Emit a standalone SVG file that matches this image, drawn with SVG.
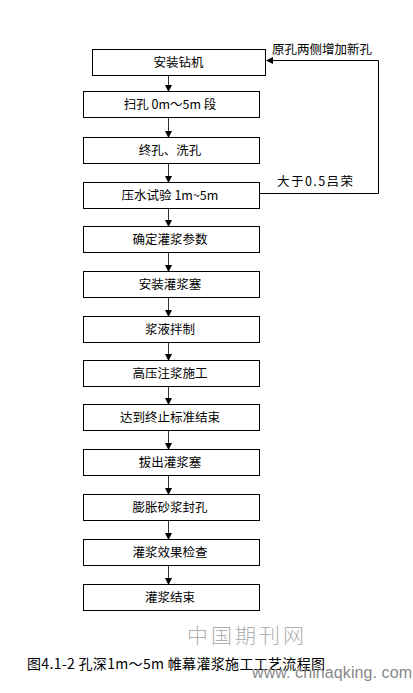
<svg xmlns="http://www.w3.org/2000/svg" width="413" height="693" viewBox="0 0 413 693">
<style>
.box{fill:#fff;stroke:#000;stroke-width:1}
.t{font-family:"Noto Sans CJK SC","Liberation Sans",sans-serif;font-size:12.5px;fill:#000;text-anchor:middle}
.lbl{font-family:"Noto Sans CJK SC","Liberation Sans",sans-serif;font-size:12.5px;fill:#000}
.ln{fill:none;stroke:#333;stroke-width:1}
.ah{fill:#000}
</style>
<rect width="413" height="693" fill="#fff"/>
<g id="n1"><rect class="box" x="92.5" y="49.5" width="173" height="26"/><text class="t" x="178.5" y="67">安装钻机</text></g>
<g id="n2"><rect class="box" x="83.5" y="91.5" width="176" height="26"/><text class="t" x="170" y="109">扫孔 0m～5m 段</text></g>
<g id="n3"><rect class="box" x="83.5" y="137.5" width="176" height="26"/><text class="t" x="170" y="155">终孔、洗孔</text></g>
<g id="n4"><rect class="box" x="83.5" y="182.5" width="176" height="26"/><text class="t" x="170" y="200">压水试验 1m~5m</text></g>
<g id="n5"><rect class="box" x="83.5" y="226.5" width="176" height="26"/><text class="t" x="170" y="244">确定灌浆参数</text></g>
<g id="n6"><rect class="box" x="83.5" y="271.5" width="176" height="26"/><text class="t" x="170" y="289">安装灌浆塞</text></g>
<g id="n7"><rect class="box" x="83.5" y="316.5" width="176" height="26"/><text class="t" x="170" y="334">浆液拌制</text></g>
<g id="n8"><rect class="box" x="83.5" y="360.5" width="176" height="26"/><text class="t" x="170" y="378">高压注浆施工</text></g>
<g id="n9"><rect class="box" x="83.5" y="404.5" width="176" height="26"/><text class="t" x="170" y="422">达到终止标准结束</text></g>
<g id="n10"><rect class="box" x="83.5" y="449.5" width="176" height="26"/><text class="t" x="170" y="467">拔出灌浆塞</text></g>
<g id="n11"><rect class="box" x="83.5" y="494.5" width="176" height="26"/><text class="t" x="170" y="512">膨胀砂浆封孔</text></g>
<g id="n12"><rect class="box" x="83.5" y="539.5" width="176" height="26"/><text class="t" x="170" y="557">灌浆效果检查</text></g>
<g id="n13"><rect class="box" x="83.5" y="584.5" width="176" height="26"/><text class="t" x="170" y="602">灌浆结束</text></g>
<g id="connectors">
<path class="ln" d="M168.5 76V86 M168.5 118V132 M168.5 164V177 M168.5 209V221 M168.5 253V266 M168.5 298V311 M168.5 343V355 M168.5 387V399 M168.5 431V444 M168.5 476V489 M168.5 521V534 M168.5 566V579"/>
<polygon class="ah" points="165,85 172,85 168.5,92"/>
<polygon class="ah" points="165,131 172,131 168.5,138"/>
<polygon class="ah" points="165,176 172,176 168.5,183"/>
<polygon class="ah" points="165,220 172,220 168.5,227"/>
<polygon class="ah" points="165,265 172,265 168.5,272"/>
<polygon class="ah" points="165,310 172,310 168.5,317"/>
<polygon class="ah" points="165,354 172,354 168.5,361"/>
<polygon class="ah" points="165,398 172,398 168.5,405"/>
<polygon class="ah" points="165,443 172,443 168.5,450"/>
<polygon class="ah" points="165,488 172,488 168.5,495"/>
<polygon class="ah" points="165,533 172,533 168.5,540"/>
<polygon class="ah" points="165,578 172,578 168.5,585"/>
<polyline fill="none" stroke="#000" stroke-width="1" points="259.5,193.5 378.5,193.5 378.5,60.5 271,60.5"/>
<polygon class="ah" points="266,60.5 273,57 273,64"/>
<text class="lbl" x="272" y="53.5">原孔两侧增加新孔</text>
<text class="lbl" x="277" y="186" textLength="76">大于0.5吕荣</text>
</g>
<text x="187" y="643" font-family="Noto Sans CJK SC,sans-serif" font-size="21" font-weight="300" fill="#b0b0b0" letter-spacing="3">中国期刊网</text>
<text x="27" y="669" font-family="Noto Sans CJK SC,Liberation Sans,sans-serif" font-size="14" fill="#000" textLength="298">图4.1-2 孔深1m～5m 帷幕灌浆施工工艺流程图</text>
<text x="252" y="678" font-family="Liberation Sans,sans-serif" font-size="16" fill="#888" textLength="160">www. chinaqking. com</text>
</svg>
